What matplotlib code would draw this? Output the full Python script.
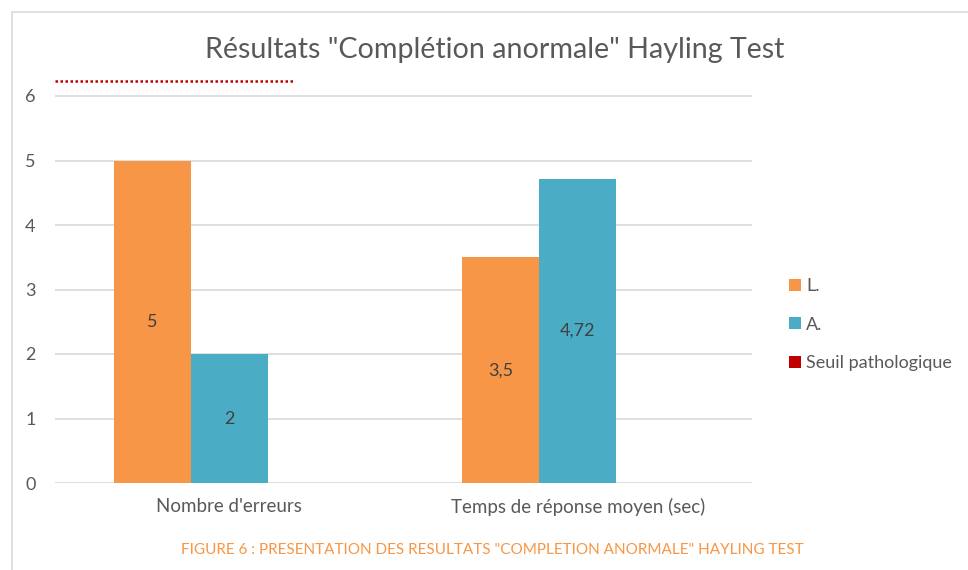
import numpy as np
import matplotlib.pyplot as plt
from matplotlib.patches import Rectangle

plt.rcParams['font.family'] = ['Lato', 'DejaVu Sans']

# data
categories = ["Nombre d'erreurs", "Temps de réponse moyen (sec)"]
series_names = ["L.", "A.", "Seuil pathologique"]
values_l = [5, 3.5]
values_a = [2, 4.72]
labels_l = ["5", "3,5"]
labels_a = ["2", "4,72"]
seuil_value = 6.23
seuil_span = [-0.5, 0.19]

ORANGE = '#F79646'
TEAL = '#4BACC6'
RED = '#C00000'
GRAY_TEXT = '#595959'
GRID = '#D9D9D9'


def main():
    fig = plt.figure(figsize=(9.68, 5.7), dpi=100)
    ax = fig.add_axes([55 / 968, 87 / 570, 697 / 968, (6.3 * 64.5) / 570])

    x = np.arange(len(categories))
    w = 0.221

    # three slots per group, the third (seuil) has no bar
    bars_l = ax.bar(x - w, values_l, w, color=ORANGE, label=series_names[0], zorder=2)
    bars_a = ax.bar(x, values_a, w, color=TEAL, label=series_names[1], zorder=2)
    ax.bar(x + w, [0, 0], w, color=RED, label=series_names[2], zorder=2)

    for bars, labs in [(bars_l, labels_l), (bars_a, labels_a)]:
        for b, t in zip(bars, labs):
            ax.text(b.get_x() + b.get_width() / 2, b.get_height() / 2, t,
                    ha='center', va='center', fontsize=13, color='#404040')

    # dotted threshold line
    ax.plot(seuil_span, [seuil_value, seuil_value], linestyle=(0, (1, 1)),
            color=RED, linewidth=1.8, zorder=3, clip_on=False)

    ax.set_xlim(-0.5, 1.5)
    ax.set_ylim(0, 6.3)
    ax.set_yticks(range(0, 7))
    ax.yaxis.grid(True, color=GRID, linewidth=1.2, zorder=0)
    ax.set_axisbelow(True)
    for s in ['top', 'right', 'left', 'bottom']:
        ax.spines[s].set_visible(False)
    ax.tick_params(axis='both', length=0, colors=GRAY_TEXT, labelsize=13)
    ax.tick_params(axis='y', pad=14)
    ax.tick_params(axis='x', pad=11)
    ax.set_xticks(x)
    ax.set_xticklabels(categories, fontsize=13.5)

    fig.text(495 / 968, 1 - 50 / 570, 'Résultats "Complétion anormale" Hayling Test',
             ha='center', va='center', fontsize=20.6, color=GRAY_TEXT)

    ax.legend(loc='center left', bbox_to_anchor=(1.03, 0.39), frameon=False,
              fontsize=13, labelcolor=GRAY_TEXT, handlelength=0.65, handleheight=0.65,
              handletextpad=0.3, labelspacing=1.25)

    fig.text(492 / 968, 1 - 550 / 570,
             'FIGURE 6 : PRESENTATION DES RESULTATS "COMPLETION ANORMALE" HAYLING TEST',
             ha='center', va='center', fontsize=11, color=ORANGE)

    # chart border (top and left visible)
    fig.patches.append(Rectangle((12 / 968, -0.1), 1.2, 1 - 12 / 570 + 0.1,
                                 transform=fig.transFigure, fill=False,
                                 edgecolor='#D9D9D9', linewidth=1.2))

    fig.savefig('out.png', dpi=100)


if __name__ == "__main__":
    main()
